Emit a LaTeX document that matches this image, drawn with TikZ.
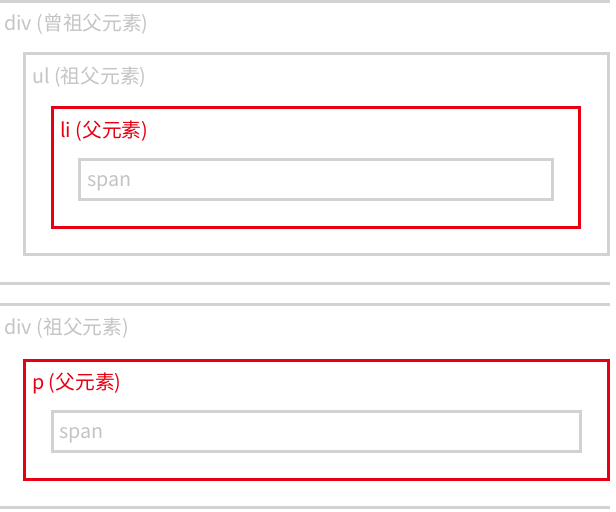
\documentclass[tikz,border=0pt]{standalone}
\usepackage{fontspec}
\setmainfont{Noto Sans CJK SC}
\definecolor{linegray}{HTML}{D2D2D2}
\definecolor{textgray}{HTML}{C4C4C4}
\definecolor{markred}{HTML}{E60012}
\tikzset{
	graybox/.style={draw=linegray, line width=2.25pt},
	redbox/.style={draw=markred, line width=2.25pt},
	graylabel/.style={anchor=west, inner sep=0pt, text=textgray, font=\fontsize{14.8pt}{17pt}\selectfont},
	redlabel/.style={anchor=west, inner sep=0pt, text=markred, font=\fontsize{14.8pt}{17pt}\selectfont}
}

\begin{document}
\begin{tikzpicture}[x=0.75pt,y=-0.75pt]
	\useasboundingbox (0,0) rectangle (616,511);

	% upper div: great-grandparent
	\coordinate (topA) at (0,1);
	\coordinate (topB) at (610,1);
	\coordinate (botA) at (0,283);
	\coordinate (botB) at (610,283);
	\draw[graybox] (topA) -- (topB);
	\draw[graybox] (botA) -- (botB);
	\node[graylabel] (divgg) at (4,24) {div (曾祖父元素)};

	\draw[graybox] (24,53) rectangle (608,254);
	\node[graylabel] (ul) at (32,77) {ul (祖父元素)};

	\draw[redbox] (52,107) rectangle (579,227);
	\node[redlabel] (li) at (60,131) {li (父元素)};

	\draw[graybox] (79,159) rectangle (552,199);
	\node[graylabel] (spanA) at (87,183) {span};

	% lower div: grandparent
	\coordinate (topC) at (0,304);
	\coordinate (topD) at (610,304);
	\coordinate (botC) at (0,507);
	\coordinate (botD) at (610,507);
	\draw[graybox] (topC) -- (topD);
	\draw[graybox] (botC) -- (botD);
	\node[graylabel] (divg) at (4,328) {div (祖父元素)};

	\draw[redbox] (24,360) rectangle (608,479);
	\node[redlabel] (p) at (32,383) {p (父元素)};

	\draw[graybox] (52,411) rectangle (580,451);
	\node[graylabel] (spanB) at (59,435) {span};

\end{tikzpicture}
\end{document}
